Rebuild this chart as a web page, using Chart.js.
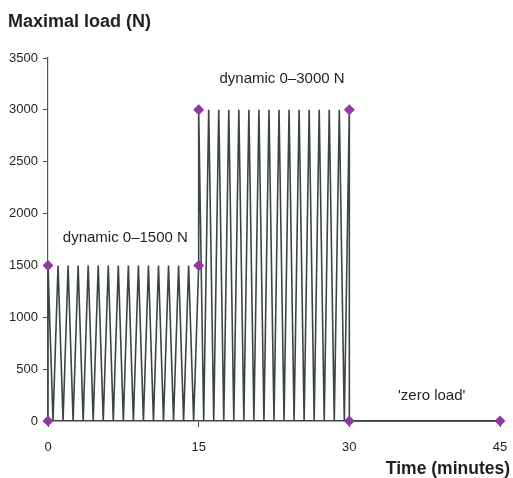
<!DOCTYPE html>
<html>
<head>
<meta charset="utf-8">
<script src="https://cdn.jsdelivr.net/npm/chart.js@4.4.0/dist/chart.umd.min.js"></script>
<style>
  html, body { margin: 0; padding: 0; background: #fff; }
  #wrap { position: relative; width: 513px; height: 478px; }
</style>
</head>
<body>
<div id="wrap"><canvas id="c"></canvas></div>
<script>
// Time (minutes) of each vertex of the load trace
const timeMinutes = [
  0, 0, 0.5, 1, 1.5, 2, 2.5, 3, 3.5, 4, 4.5, 5, 5.5, 6, 6.5, 7, 7.5, 8, 8.5, 9, 9.5,
  10, 10.5, 11, 11.5, 12, 12.5, 13, 13.5, 14, 14.5, 15,
  15, 15.5, 16, 16.5, 17, 17.5, 18, 18.5, 19, 19.5, 20, 20.5, 21, 21.5, 22, 22.5,
  23, 23.5, 24, 24.5, 25, 25.5, 26, 26.5, 27, 27.5, 28, 28.5, 29, 29.5, 30,
  30, 45
];
// Load (N) at each vertex
const loadN = [
  0, 1500, 0, 1500, 0, 1500, 0, 1500, 0, 1500, 0, 1500, 0, 1500, 0, 1500, 0, 1500, 0, 1500, 0,
  1500, 0, 1500, 0, 1500, 0, 1500, 0, 1500, 0, 1500,
  3000, 0, 3000, 0, 3000, 0, 3000, 0, 3000, 0, 3000, 0, 3000, 0, 3000, 0,
  3000, 0, 3000, 0, 3000, 0, 3000, 0, 3000, 0, 3000, 0, 3000, 0, 3000,
  0, 0
];
// Phase boundary markers
const markerTime = [0, 0, 15, 15, 30, 30, 45];
const markerLoad = [0, 1500, 1500, 3000, 3000, 0, 0];
// Axis ticks
const xTicks = [0, 15, 30, 45];
const yTicks = [0, 500, 1000, 1500, 2000, 2500, 3000, 3500];
// Texts
const yTitle = 'Maximal load (N)';
const xTitle = 'Time (minutes)';
const phaseLabels = ['dynamic 0\u20131500 N', 'dynamic 0\u20133000 N', "'zero load'"];
const phaseLabelTime = [7.7, 23.3, 38.2];
const phaseLabelLoad = [1770, 3300, 240];

const FONT = '"Liberation Sans", Arial, Helvetica, sans-serif';
const DARK = '#3c4545';

const textPlugin = {
  id: 'texts',
  afterDraw(chart) {
    const ctx = chart.ctx;
    const xs = chart.scales.x, ys = chart.scales.y;
    ctx.save();
    ctx.fillStyle = '#231f20';
    ctx.font = 'bold 18px ' + FONT;
    ctx.textAlign = 'left';
    ctx.textBaseline = 'alphabetic';
    ctx.fillText(yTitle, 8, 27);
    ctx.font = 'bold 17.5px ' + FONT;
    ctx.textAlign = 'right';
    ctx.fillText(xTitle, 510, 474);
    ctx.font = '15px ' + FONT;
    ctx.textAlign = 'center';
    ctx.textBaseline = 'middle';
    phaseLabels.forEach((t, i) => {
      ctx.fillText(t, xs.getPixelForValue(phaseLabelTime[i]), ys.getPixelForValue(phaseLabelLoad[i]));
    });
    ctx.restore();
  }
};

new Chart(document.getElementById('c'), {
  type: 'scatter',
  data: {
    datasets: [
      {
        data: markerTime.map((t, i) => ({ x: t, y: markerLoad[i] })),
        showLine: false,
        pointStyle: 'rectRot',
        pointRadius: 5.5,
        backgroundColor: '#8e3b9e',
        borderColor: '#8e3b9e',
        borderWidth: 0,
        clip: false,
        order: 0
      },
      {
        data: timeMinutes.map((t, i) => ({ x: t, y: loadN[i] })),
        showLine: true,
        borderColor: DARK,
        borderWidth: 1.6,
        pointRadius: 0,
        tension: 0,
        fill: false,
        clip: false,
        order: 1
      }
    ]
  },
  options: {
    responsive: true,
    maintainAspectRatio: false,
    animation: false,
    layout: { autoPadding: false, padding: { top: 58, right: 13, left: 0, bottom: 0 } },
    plugins: {
      legend: { display: false },
      tooltip: { enabled: false },
      title: { display: false }
    },
    scales: {
      x: {
        type: 'linear',
        min: 0, max: 45,
        afterFit(s) { s.height = 57; s.paddingLeft = 0; s.paddingRight = 0; },
        afterBuildTicks(s) { s.ticks = xTicks.map(v => ({ value: v })); },
        ticks: { color: '#231f20', font: { family: FONT, size: 13 }, padding: 13, maxRotation: 0,
                 callback: v => String(v) },
        grid: { display: true, drawOnChartArea: false, drawTicks: true, tickLength: 6, color: DARK, lineWidth: 1 },
        border: { display: true, color: DARK, width: 1.6 }
      },
      y: {
        type: 'linear',
        min: 0, max: 3500,
        afterFit(s) { s.width = 48; s.paddingTop = 0; s.paddingBottom = 0; },
        afterBuildTicks(s) { s.ticks = yTicks.map(v => ({ value: v })); },
        ticks: { color: '#231f20', font: { family: FONT, size: 13 }, padding: 5,
                 callback: v => String(v) },
        grid: { display: true, drawOnChartArea: false, drawTicks: true, tickLength: 5, color: '#555', lineWidth: 1 },
        border: { display: true, color: '#555', width: 1.2 }
      }
    }
  },
  plugins: [textPlugin]
});
</script>
</body>
</html>
